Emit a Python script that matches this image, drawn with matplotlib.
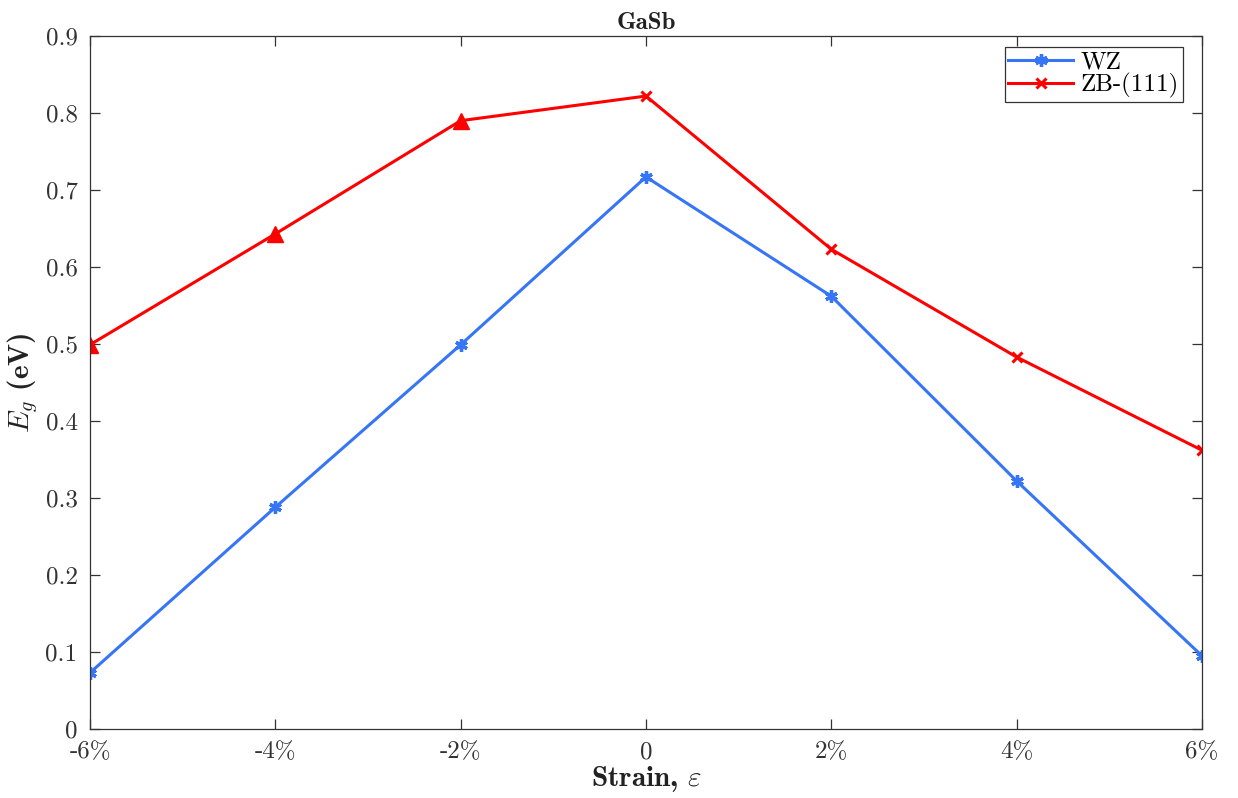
"""
band gap of GaSb nanowires (WZ and ZB-(111)) under uniaxial strain
"""

import numpy as np
import matplotlib
matplotlib.use('Agg')
import matplotlib.pyplot as plt
from matplotlib.ticker import FormatStrFormatter

# strain in %, gap in eV
strain = [-6, -4, -2, 0, 2, 4, 6]
strain_labels = ['-6%', '-4%', '-2%', '0', '2%', '4%', '6%']
eg_wz = [0.073, 0.288, 0.499, 0.717, 0.562, 0.322, 0.095]
eg_zb = [0.499, 0.643, 0.790, 0.822, 0.623, 0.483, 0.362]
# points of ZB-(111) drawn with a triangle instead of a cross
zb_tri = [0, 1, 2]
zb_cross = [3, 4, 5, 6]

plt.rcParams['mathtext.fontset'] = 'cm'
plt.rcParams['axes.unicode_minus'] = False

blue = '#3775f7'
red = '#ff0000'
ax_col = '#333333'

fig = plt.figure(figsize=(12.38, 7.98), dpi=100)
ax = fig.add_axes([0.0727, 0.0865, 0.8982, 0.8684])

ax.plot(strain, eg_wz, color=blue, lw=2.2, marker=(6, 2, 0), ms=9, mew=2.4,
        label='WZ')
ax.plot(strain, eg_zb, color=red, lw=2.2, marker='x', ms=7, mew=2.2,
        markevery=zb_cross, label='ZB-(111)')
ax.plot(np.array(strain)[zb_tri], np.array(eg_zb)[zb_tri], ls='none', marker='^',
        color=red, ms=12)

ax.set_xlim(-6, 6)
ax.set_ylim(0, 0.9)
ax.set_xticks(strain)
ax.set_xticklabels(strain_labels)
ax.set_yticks(np.arange(0, 0.91, 0.1))
ax.yaxis.set_major_formatter(FormatStrFormatter('%g'))

for lab in ax.get_xticklabels() + ax.get_yticklabels():
    lab.set_fontfamily('cmr10')
    lab.set_fontsize(18)
    lab.set_color(ax_col)

ax.tick_params(direction='in', length=7, width=0.9, color=ax_col,
               top=True, right=True)
ax.tick_params(axis='x', pad=9)
ax.tick_params(axis='y', pad=9)
for sp in ax.spines.values():
    sp.set_color(ax_col)
    sp.set_linewidth(0.9)

ax.set_title('GaSb', fontfamily='cmb10', fontsize=18, color='#222222', pad=5)
ax.set_xlabel(r'Strain, $\varepsilon$', fontfamily='cmb10', fontsize=21,
              color='#222222', labelpad=0)
ax.set_ylabel(r'$E_g$ (eV)', fontfamily='cmb10', fontsize=21,
              color='#222222', labelpad=4)

leg = ax.legend(loc='upper right', bbox_to_anchor=(0.9829, 0.984), fancybox=False,
                framealpha=1, borderaxespad=0, handlelength=2.6, handletextpad=0.3,
                borderpad=0.15, labelspacing=0.0, prop={'family': 'cmr10', 'size': 18})
leg.get_frame().set_edgecolor(ax_col)
leg.get_frame().set_linewidth(0.9)

fig.savefig('out.png', dpi=100)
